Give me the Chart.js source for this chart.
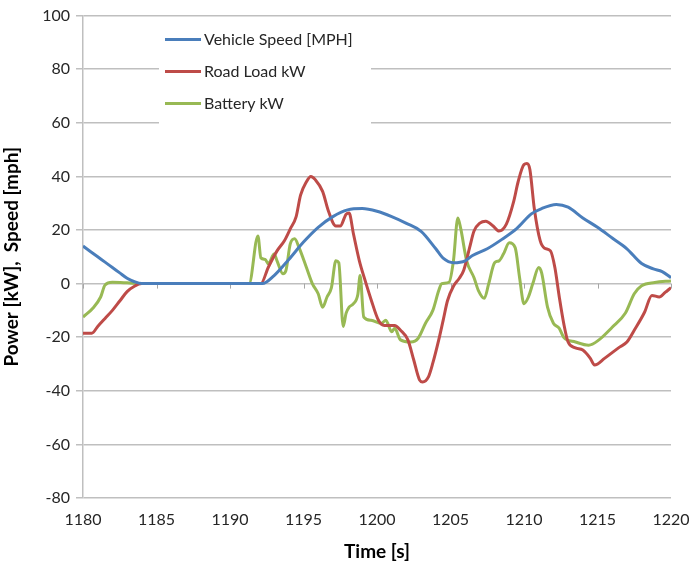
<!DOCTYPE html>
<html>
<head>
<meta charset="utf-8">
<script src="https://cdn.jsdelivr.net/npm/chart.js@4"></script>
<style>
  html, body { margin: 0; padding: 0; background: #fff; }
  #wrap { width: 689px; height: 568px; }
</style>
</head>
<body>
<div id="wrap"><canvas id="chart" width="689" height="568"></canvas></div>
<script>
// Series data
const seriesLabels = ['Vehicle Speed [MPH]', 'Road Load kW', 'Battery kW'];
const seriesColors = ['#4A7EBB', '#BE4B48', '#98B954'];

const speedTime = [1180, 1180.5, 1181, 1181.5, 1182, 1182.5, 1183, 1183.5, 1184, 1192.2, 1193, 1194, 1195,
    1196, 1197, 1198, 1199, 1200, 1201, 1202, 1203, 1204, 1204.5, 1205.2, 1206, 1206.5, 1207.5, 1208.5,
    1209.5, 1210.5, 1211.2, 1212.2, 1213, 1214, 1215, 1216, 1217, 1218, 1218.8, 1219.4, 1220];
const speedVals = [14, 12, 10, 8, 6, 4, 2, 0.7, 0, 0, 3, 9, 15.5,
    21, 25, 27.5, 28, 27, 25, 22.5, 19.5, 13, 9.5, 7.8, 8.5, 10.5, 13, 16.5,
    20.5, 26, 28, 29.5, 28.5, 24.5, 21, 17, 13, 7.5, 5.5, 4.5, 2.2];

const loadTime = [1180, 1180.6, 1181, 1181.5, 1182, 1182.5, 1183, 1183.5, 1184, 1192.1, 1192.6, 1193.2,
    1193.7, 1194.1, 1194.5, 1194.8, 1195.2, 1195.5, 1195.8, 1196.3, 1196.7, 1197.2, 1197.5, 1197.9, 1198.1,
    1198.4, 1198.8, 1199.2, 1199.6, 1200.1, 1200.5, 1201.2, 1201.6, 1202.1, 1202.5, 1202.9, 1203.1, 1203.5,
    1203.8, 1204.2, 1204.5, 1204.8, 1205.2, 1205.6, 1205.9, 1206.3, 1206.6, 1207, 1207.4, 1207.9, 1208.3,
    1208.8, 1209.3, 1209.6, 1210, 1210.2, 1210.4, 1210.7, 1211.1, 1211.4, 1211.8, 1212.1, 1212.4, 1212.7,
    1213, 1213.5, 1214, 1214.5, 1214.8, 1215.5, 1216.5, 1217, 1217.5, 1218.2, 1218.7, 1219.2, 1219.6, 1220];
const loadVals = [-18.5, -18.5, -16, -13, -10, -6.5, -3, -1, 0, 0, 6, 12.2,
    16, 20.4, 25, 33, 38, 40, 38.8, 34.4, 27, 21.5, 21.5, 25.9, 26.3,
    18.5, 8.5, 1, -6, -13.7, -15.6, -15.6, -17.4, -21, -28.5, -36, -36.7, -34.8,
    -29.6, -21, -13.7, -6.3, -1, 2, 5, 13.4, 19.6, 22.6, 23.3, 21.5, 19.6,
    22.2, 30.7, 38, 44.4, 44.8, 42.6, 28, 16, 13.2, 12.2, 6, -5, -14.8,
    -21.8, -24, -24.8, -27.8, -30.4, -27.8, -23.7, -21.8, -17.4, -10.7, -4.4, -5, -3.3, -1.5];

const battTime = [1180, 1180.7, 1181.2, 1181.5, 1182, 1183, 1184, 1191.3, 1191.9, 1192.1, 1192.4, 1192.6,
    1193, 1193.2, 1193.6, 1193.8, 1194.1, 1194.4, 1194.7, 1195.2, 1195.6, 1196, 1196.3, 1196.6, 1196.9,
    1197.2, 1197.4, 1197.7, 1197.9, 1198.1, 1198.4, 1198.7, 1198.85, 1199.1, 1199.6, 1200.3, 1200.6,
    1201, 1201.2, 1201.6, 1202.3, 1202.8, 1203.3, 1203.8, 1204.2, 1204.4, 1204.9, 1205.2, 1205.5, 1205.7,
    1206.1, 1206.6, 1206.9, 1207.3, 1207.6, 1208, 1208.3, 1208.6, 1209, 1209.4, 1209.7, 1210, 1210.3,
    1210.6, 1211, 1211.2, 1211.6, 1212, 1212.4, 1212.7, 1213.5, 1214.4, 1215.1, 1216, 1216.9, 1217.5,
    1218, 1218.9, 1220];
const battVals = [-12.5, -9, -5, -0.5, 0.5, 0.3, 0, 0, 17.8, 9.6, 9, 7.4,
    11, 8.5, 3.7, 4.8, 14.8, 16.7, 13.4, 6, 0, -3.8, -8.8, -5, -1.5,
    8.5, 7.8, -16, -11, -8.8, -7.5, -4, 3, -12.5, -13.7, -14.8, -13.7,
    -18, -16.7, -21, -21.8, -20.4, -14.8, -10, -2.6, 0, 0.5, 8.5, 24.5, 20.4,
    8.5, 2.2, -2.6, -5.5, 0, 7.8, 8.5, 11, 15.2, 13.4, 2.2, -7.5, -5,
    0, 6, 4, -8.8, -14.8, -16.7, -20, -21.8, -23, -21, -16.3, -11, -3.8,
    -0.8, 0.4, 1];

const xTicks = [1180, 1185, 1190, 1195, 1200, 1205, 1210, 1215, 1220];

function toPoints(times, vals) {
    return times.map((t, i) => ({ x: t, y: vals[i] }));
}

const fontFamily = 'Lato, "Open Sans", sans-serif';

// Legend drawn inside the plot, top-left, with a white box
const innerLegend = {
    id: 'innerLegend',
    afterDatasetsDraw(chart) {
        const ctx = chart.ctx;
        const area = chart.chartArea;
        const x0 = area.left + 82;
        const y0 = area.top + 24;
        const rowH = 32;
        ctx.save();
        ctx.fillStyle = '#fff';
        ctx.fillRect(x0 - 6, y0 - 14, 212, rowH * 3 + 6);
        ctx.font = '16px ' + fontFamily;
        ctx.textBaseline = 'middle';
        chart.data.datasets.forEach((ds, i) => {
            const y = y0 + i * rowH;
            ctx.strokeStyle = ds.borderColor;
            ctx.lineWidth = 3;
            ctx.beginPath();
            ctx.moveTo(x0, y);
            ctx.lineTo(x0 + 36, y);
            ctx.stroke();
            ctx.fillStyle = '#262626';
            ctx.fillText(ds.label, x0 + 39, y);
        });
        ctx.restore();
    }
};

// Small tick marks along the zero line, like the category axis crossing at 0
const zeroTicks = {
    id: 'zeroTicks',
    beforeDatasetsDraw(chart) {
        const ctx = chart.ctx;
        const xs = chart.scales.x;
        const y = chart.scales.y.getPixelForValue(0);
        ctx.save();
        ctx.strokeStyle = '#A6A6A6';
        ctx.lineWidth = 1;
        xTicks.forEach(t => {
            const px = Math.round(xs.getPixelForValue(t)) + 0.5;
            ctx.beginPath();
            ctx.moveTo(px, y);
            ctx.lineTo(px, y + 5);
            ctx.stroke();
        });
        ctx.restore();
    }
};

const makeSet = (i, times, vals) => ({
    label: seriesLabels[i],
    data: toPoints(times, vals),
    borderColor: seriesColors[i],
    backgroundColor: seriesColors[i],
    borderWidth: 3,
    pointRadius: 0,
    cubicInterpolationMode: 'monotone',
    fill: false
});

new Chart(document.getElementById('chart'), {
    type: 'line',
    data: {
        datasets: [
            makeSet(0, speedTime, speedVals),
            makeSet(1, loadTime, loadVals),
            makeSet(2, battTime, battVals)
        ]
    },
    plugins: [zeroTicks, innerLegend],
    options: {
        responsive: false,
        animation: false,
        layout: { padding: { top: 13, right: 2, left: 0, bottom: 0 } },
        plugins: {
            legend: { display: false },
            tooltip: { enabled: false }
        },
        scales: {
            x: {
                type: 'linear',
                min: 1180,
                max: 1220,
                afterBuildTicks: (scale) => { scale.ticks = xTicks.map(v => ({ value: v })); },
                grid: { display: false, drawTicks: false },
                border: { display: false },
                ticks: {
                    color: '#262626',
                    font: { family: fontFamily, size: 16 },
                    padding: 12,
                    maxRotation: 0,
                    callback: (v) => String(v)
                },
                title: {
                    display: true,
                    text: 'Time [s]',
                    color: '#000',
                    font: { family: fontFamily, size: 19, weight: 'bold' },
                    padding: { top: 4, bottom: 5 }
                },
                afterFit: (scale) => {
                    scale.height = 70;
                    scale.paddingRight = 18;
                }
            },
            y: {
                min: -80,
                max: 100,
                ticks: {
                    stepSize: 20,
                    color: '#262626',
                    font: { family: fontFamily, size: 16 },
                    padding: 6
                },
                grid: {
                    color: '#BFBFBF',
                    lineWidth: 1.5,
                    drawTicks: true,
                    tickLength: 7,
                    tickColor: '#BFBFBF'
                },
                border: { display: true, color: '#BFBFBF', width: 1.5 },
                title: {
                    display: true,
                    text: 'Power [kW],  Speed [mph]',
                    color: '#000',
                    font: { family: fontFamily, size: 19, weight: 'bold' },
                    padding: { top: 0, bottom: 4 }
                },
                afterFit: (scale) => { scale.width = 83; }
            }
        }
    }
});
</script>
</body>
</html>
